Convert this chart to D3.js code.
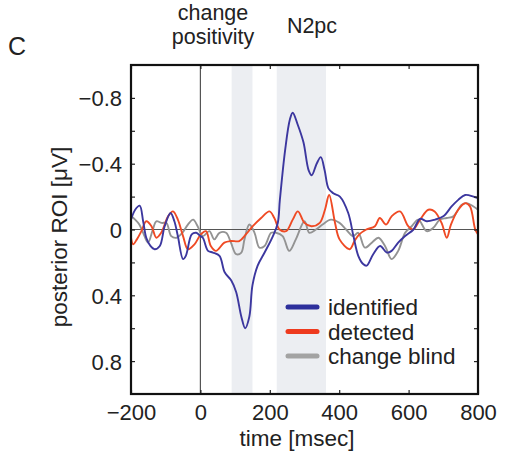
<!DOCTYPE html>
<html><head><meta charset="utf-8">
<script src="https://cdn.jsdelivr.net/npm/d3@7"></script>
<style>
html,body{margin:0;padding:0;background:#fff;}
svg{display:block;font-family:"Liberation Sans",Arial,Helvetica,sans-serif;}
</style></head>
<body><svg id="c" width="506" height="466"></svg>
<script>
const identifiedTime = [-200,-188,-175,-165,-156,-144,-132,-117,-103,-86,-75,-65,-50,-42,-25,-12,0,7,22,36,55,70,89,103,118,129,141,150,165,185,209,223,229,244,258,266,280,297,312,321,335,347,358,369,383,402,426,441,455,469,479,498,518,537,551,570,590,614,633,652,676,700,724,743,763,787,800];
const identifiedValue = [-0.06,-0.12,-0.145,-0.05,0.05,0.10,0.12,0.10,-0.02,-0.10,-0.05,0.04,0.18,0.16,0.03,0.02,0.04,0.05,0.13,0.14,0.16,0.26,0.31,0.38,0.53,0.60,0.53,0.34,0.22,0.14,0.04,-0.04,-0.18,-0.48,-0.67,-0.71,-0.64,-0.53,-0.36,-0.33,-0.40,-0.44,-0.36,-0.25,-0.22,-0.20,-0.10,0.04,0.16,0.21,0.22,0.15,0.10,0.14,0.13,0.08,0.04,0.00,-0.065,-0.05,-0.06,-0.08,-0.14,-0.18,-0.21,-0.20,-0.19];

const detectedTime = [-200,-194,-183,-170,-156,-141,-127,-113,-93,-79,-65,-50,-36,-17,1,16,30,45,69,88,112,131,151,175,199,213,228,247,266,281,300,320,344,359,371,388,401,430,444,458,478,503,517,535,551,575,599,613,633,657,675,695,710,722,743,763,777,792,800];
const detectedValue = [0.05,0.09,0.06,0.01,-0.05,-0.02,0.05,0.02,-0.08,-0.11,-0.06,0.04,0.12,0.09,0.03,0.01,0.10,0.13,0.08,0.07,0.07,0.03,-0.02,-0.07,-0.11,-0.07,0.0,0.01,-0.06,-0.11,-0.04,-0.02,-0.04,-0.12,-0.21,-0.04,0.06,0.12,0.07,0.03,0.0,-0.02,-0.07,-0.03,-0.08,-0.11,-0.02,0.0,-0.06,-0.12,-0.11,-0.04,0.05,-0.03,-0.12,-0.16,-0.14,0.0,0.03];

const blindTime = [-200,-188,-176,-165,-151,-137,-127,-112,-98,-84,-69,-52,-36,-21,-8,7,26,40,55,74,88,103,118,127,141,156,170,185,204,218,237,256,275,300,314,333,352,376,401,420,440,455,474,494,513,532,551,570,590,609,628,652,671,690,710,729,753,767,787,800];
const blindValue = [-0.08,-0.06,-0.03,0.02,0.08,0.0,-0.05,-0.04,-0.04,0.04,0.05,0.02,-0.03,-0.06,-0.02,0.04,0.01,0.06,0.02,0.02,0.08,0.15,0.14,0.06,-0.03,0.02,0.11,0.10,0.02,0.02,0.04,0.13,0.06,-0.05,0.02,0.0,-0.03,-0.06,-0.04,0.0,0.04,0.02,0.11,0.08,0.05,0.10,0.18,0.13,0.02,-0.02,-0.06,0.01,-0.01,-0.06,-0.07,-0.08,-0.15,-0.16,-0.14,-0.12];

const seriesNames = ["identified","detected","change blind"];
const seriesColors = ["#3c379f","#ef4a24","#939393"];
const legendColors = ["#2d2f9c","#ee3a1e","#a3a3a3"];

const xTicks = [-200,0,200,400,600,800];
const yTicks = [-0.8,-0.6,-0.4,-0.2,0,0.2,0.4,0.6,0.8];
const yLabelTicks = [-0.8,-0.4,0,0.4,0.8];
const bands = [[90,150],[220,362]];
const bandLabels = [["change","positivity"],["N2pc"]];

const svg = d3.select("#c");
const L=131, R=478, T=65, B=394;
const x = d3.scaleLinear().domain([-200,800]).range([L,R]);
const y = d3.scaleLinear().domain([-1,1]).range([T,B]);

// bands
svg.selectAll("rect.band").data(bands).enter().append("rect")
  .attr("x",d=>x(d[0])).attr("width",d=>x(d[1])-x(d[0]))
  .attr("y",T).attr("height",B-T).attr("fill","#eceef2");

// zero lines
svg.append("line").attr("x1",L).attr("x2",R).attr("y1",y(0)).attr("y2",y(0)).attr("stroke","#555").attr("stroke-width",1.2);
svg.append("line").attr("x1",x(0)).attr("x2",x(0)).attr("y1",T).attr("y2",B).attr("stroke","#555").attr("stroke-width",1.2);

// clip
svg.append("clipPath").attr("id","clip").append("rect").attr("x",L).attr("y",T).attr("width",R-L).attr("height",B-T);

const line = d3.line().x(d=>x(d[0])).y(d=>y(d[1])).curve(d3.curveCatmullRom.alpha(0.5));
const data = [
  d3.zip(blindTime, blindValue),
  d3.zip(detectedTime, detectedValue),
  d3.zip(identifiedTime, identifiedValue)
];
const cols = [seriesColors[2], seriesColors[1], seriesColors[0]];
const g = svg.append("g").attr("clip-path","url(#clip)");
data.forEach((d,i)=>{
  g.append("path").attr("d",line(d)).attr("fill","none").attr("stroke",cols[i]).attr("stroke-width",1.9).attr("stroke-linejoin","round");
});

// axes with inward ticks
const fmtY = v => v===0 ? "0" : (v<0 ? "\u2212"+Math.abs(v).toFixed(1) : v.toFixed(1));
const fmtX = v => v<0 ? "\u2212"+Math.abs(v) : String(v);
const tickLen = 4;
const axB = svg.append("g").attr("transform",`translate(0,${B})`)
  .call(d3.axisBottom(x).tickValues(xTicks).tickSize(-tickLen).tickPadding(10).tickFormat(fmtX));
const axT = svg.append("g").attr("transform",`translate(0,${T})`)
  .call(d3.axisTop(x).tickValues(xTicks).tickSize(-tickLen).tickFormat(""));
const axL = svg.append("g").attr("transform",`translate(${L},0)`)
  .call(d3.axisLeft(y).tickValues(yTicks).tickSize(-tickLen).tickPadding(9).tickFormat(v=>yLabelTicks.some(t=>Math.abs(t-v)<1e-9)?fmtY(v):""));
const axR = svg.append("g").attr("transform",`translate(${R},0)`)
  .call(d3.axisRight(y).tickValues(yTicks).tickSize(-tickLen).tickFormat(""));
[axB,axT,axL,axR].forEach(a=>{
  a.select(".domain").remove();
  a.selectAll(".tick line").attr("stroke","#222").attr("stroke-width",1.2);
  a.selectAll("text").attr("font-size",22).attr("fill","#222").attr("font-family",'"Liberation Sans",Arial,sans-serif');
});
axL.selectAll("text").attr("dy","0.36em");

// frame
svg.append("rect").attr("x",L).attr("y",T).attr("width",R-L).attr("height",B-T)
  .attr("fill","none").attr("stroke","#111").attr("stroke-width",2.2);

// legend
const lg = svg.append("g");
seriesNames.forEach((n,i)=>{
  const yy = 307 + i*24.5;
  lg.append("line").attr("x1",288).attr("x2",317).attr("y1",yy).attr("y2",yy)
    .attr("stroke",legendColors[i]).attr("stroke-width",5).attr("stroke-linecap","round");
  lg.append("text").attr("x",328).attr("y",yy).attr("dy","0.36em").attr("font-size",22.5).attr("fill","#222").text(n);
});

// labels
svg.append("text").attr("x",297).attr("y",446).attr("text-anchor","middle").attr("font-size",22.5).attr("fill","#222").text("time [msec]");
svg.append("text").attr("transform","translate(67,237) rotate(-90)").attr("text-anchor","middle").attr("font-size",22.5).attr("fill","#222").text("posterior ROI [\u03bcV]");
svg.append("text").attr("x",8).attr("y",55).attr("font-size",25).attr("fill","#222").text("C");
svg.append("text").attr("x",213).attr("y",20).attr("text-anchor","middle").attr("font-size",21.5).attr("fill","#222").text(bandLabels[0][0]);
svg.append("text").attr("x",213).attr("y",44).attr("text-anchor","middle").attr("font-size",21.5).attr("fill","#222").text(bandLabels[0][1]);
svg.append("text").attr("x",312).attr("y",33).attr("text-anchor","middle").attr("font-size",21.5).attr("fill","#222").text(bandLabels[1][0]);
</script></body></html>
